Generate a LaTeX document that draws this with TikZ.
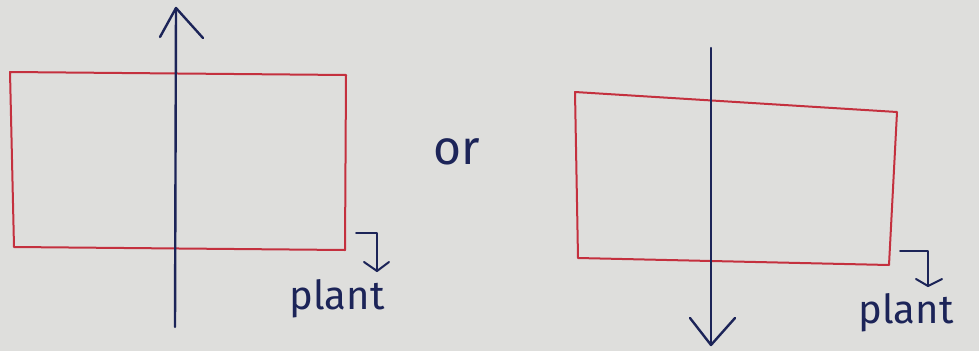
\documentclass[tikz,border=0pt]{standalone}
\usepackage{fontspec}
\setmainfont{Fira Sans}
\definecolor{paper}{HTML}{DEDEDC}
\definecolor{redink}{HTML}{C4303E}
\definecolor{blueink}{HTML}{1C2458}
\begin{document}
\begin{tikzpicture}[x=1pt,y=-1pt,
  redline/.style={draw=redink,line width=2pt,line join=round,line cap=round},
  blueline/.style={draw=blueink,line width=2.4pt,line join=round,line cap=round},
  hand/.style={text=blueink,font=\fontsize{40}{40}\selectfont,inner sep=0pt}]
\fill[paper] (0,0) rectangle (979,351);
\useasboundingbox (0,0) rectangle (979,351);
% left rectangle
\draw[redline] (10,72) -- (346,75) -- (345,250) -- (14,247) -- cycle;
% right rectangle
\draw[redline] (575,92) -- (897,112) -- (889,265) -- (578,258) -- cycle;
% left arrow (up)
\coordinate (la1) at (175,327);
\coordinate (la2) at (176,8);
\draw[blueline] (la1) -- (la2);
\draw[blueline] (160,37) -- (176,8) -- (203,38);
% right arrow (down)
\coordinate (ra1) at (711,48);
\coordinate (ra2) at (711,345);
\draw[blueline] (ra1) -- (ra2);
\draw[blueline] (690,318) -- (711,345) -- (735,318);
% or
\node[hand,font=\fontsize{48}{48}\selectfont] (or) at (457,152) {or};
% left plant
\node[hand] (p1) at (337,299) {plant};
\draw[blueline,line width=2pt] (356,233) -- (377,233) -- (377,271);
\draw[blueline,line width=2pt] (364,262) -- (377,271) -- (389,262);
% right plant
\node[hand] (p2) at (906,313) {plant};
\draw[blueline,line width=2pt] (900,251) -- (928,251) -- (928,286);
\draw[blueline,line width=2pt] (916,279) -- (928,286) -- (942,279);
\end{tikzpicture}
\end{document}
